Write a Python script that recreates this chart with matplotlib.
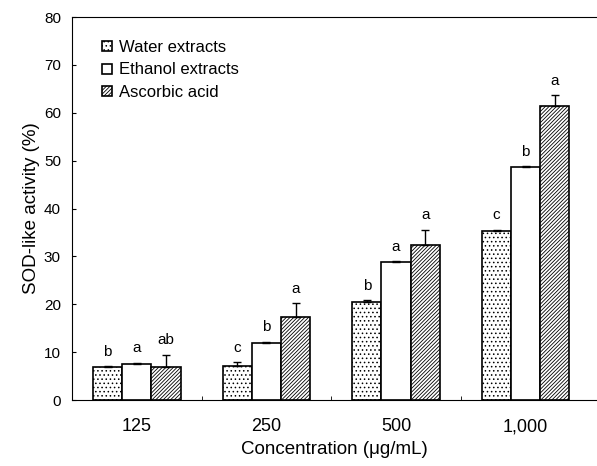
import numpy as np
import matplotlib.pyplot as plt

plt.rcParams['font.family'] = ['Liberation Sans', 'DejaVu Sans']
plt.rcParams['hatch.linewidth'] = 0.6

concs = ['125', '250', '500', '1,000']
water = [6.8, 7.2, 20.5, 35.2]
water_err = [0.3, 0.8, 0.3, 0.4]
water_lbl = ['b', 'c', 'b', 'c']
ethanol = [7.6, 12.0, 28.9, 48.6]
ethanol_err = [0.2, 0.2, 0.2, 0.3]
ethanol_lbl = ['a', 'b', 'a', 'b']
ascorbic = [6.8, 17.3, 32.3, 61.5]
ascorbic_err = [2.7, 3.0, 3.3, 2.2]
ascorbic_lbl = ['ab', 'a', 'a', 'a']

fig = plt.figure(figsize=(5.97, 4.66), dpi=100)
ax = fig.add_axes([0.1206, 0.1416, 0.8794, 0.8219])

x = np.arange(len(concs))
w = 0.225
series = [
    (water, water_err, water_lbl, '....', 'Water extracts'),
    (ethanol, ethanol_err, ethanol_lbl, '', 'Ethanol extracts'),
    (ascorbic, ascorbic_err, ascorbic_lbl, '/////////', 'Ascorbic acid'),
]
for i, (vals, errs, lbls, hatch, name) in enumerate(series):
    pos = x + (i - 1) * w
    ax.bar(pos, vals, w, color='white', edgecolor='black', linewidth=1.2,
           hatch=hatch, label=name, zorder=2)
    ax.errorbar(pos, vals, yerr=[np.zeros(len(vals)), errs], fmt='none',
                ecolor='black', elinewidth=1.0, capsize=3, capthick=1.0, zorder=3)
    for p, v, e, t in zip(pos, vals, errs, lbls):
        ax.text(p, v + e + 1.5, t, ha='center', va='bottom', fontsize=11)

ax.set_xlim(-0.5, 3.55)
ax.set_ylim(0, 80)
ax.set_yticks(range(0, 81, 10))
ax.set_xticks(x)
ax.set_xticklabels(concs, fontsize=13)
ax.set_xticks([0.5, 1.5, 2.5], minor=True)
ax.tick_params(axis='x', which='major', length=0, pad=13)
ax.tick_params(axis='x', which='minor', direction='in', length=3)
ax.tick_params(axis='y', direction='in', length=3, labelsize=11, pad=8)
ax.spines['right'].set_visible(False)
ax.set_xlabel('Concentration (\u03bcg/mL)', fontsize=13.5, labelpad=4)
ax.set_ylabel('SOD-like activity (%)', fontsize=13.5, labelpad=3)

ax.legend(loc='upper left', bbox_to_anchor=(0.058, 0.94), frameon=False,
          borderpad=0, borderaxespad=0,
          fontsize=12, handlelength=0.55, handleheight=0.55, handletextpad=0.45,
          labelspacing=0.45)

fig.savefig('out.png', dpi=100)
